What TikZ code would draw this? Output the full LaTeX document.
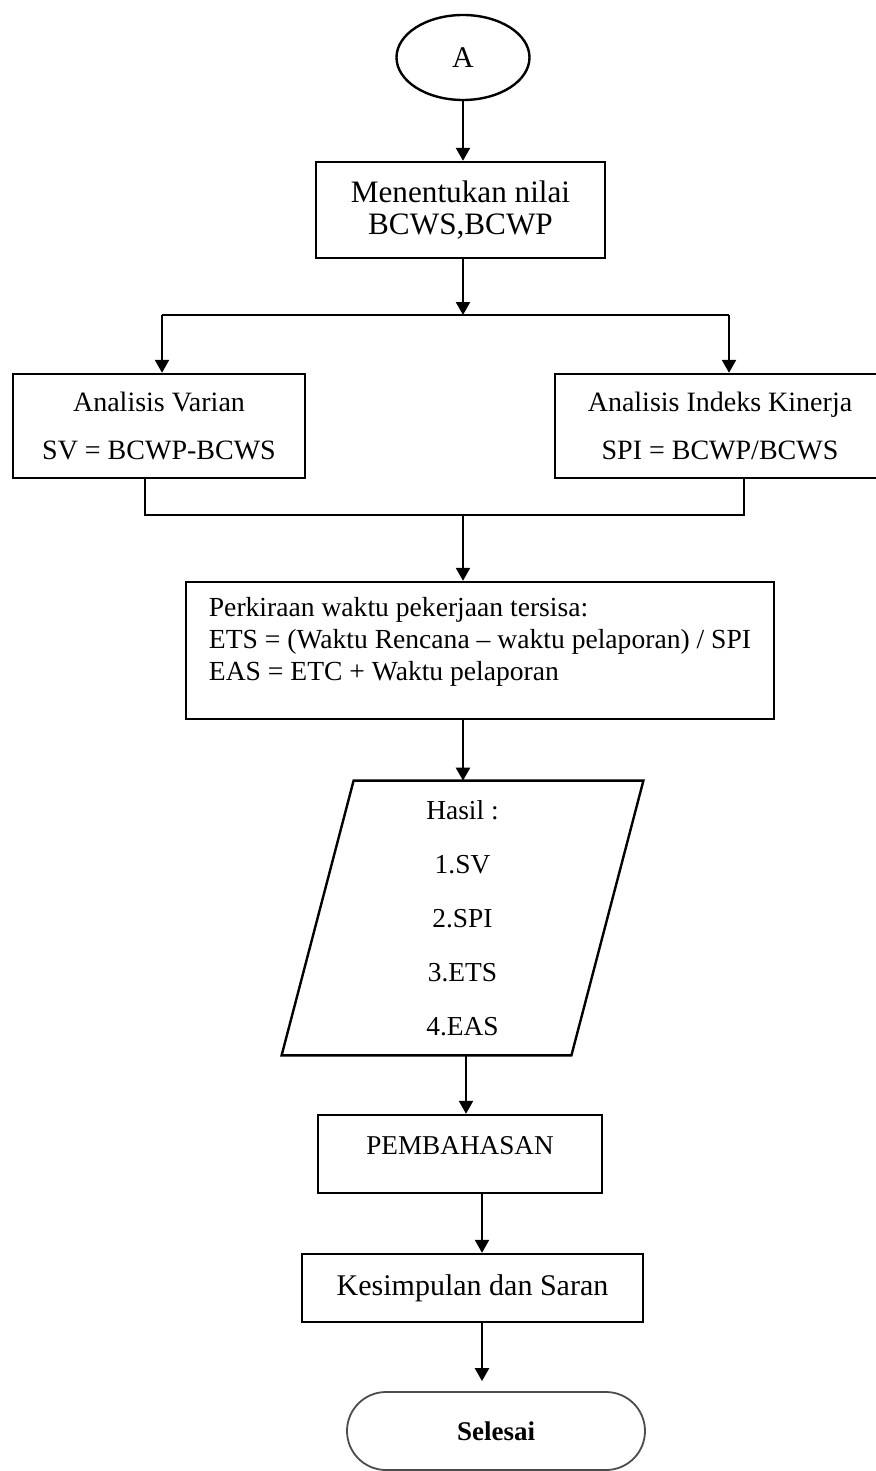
\documentclass[tikz,border=0pt]{standalone}
\usepackage{fontspec}
\setmainfont{Liberation Serif}
\usetikzlibrary{shapes.geometric,arrows.meta}
\begin{document}
\begin{tikzpicture}[x=0.5pt,y=-0.5pt,
        font=\fontsize{15}{17}\selectfont,
        box/.style={draw,line width=1.2pt,rectangle,inner sep=0pt,align=center},
        arr/.style={line width=1.2pt,-{Triangle[length=6.5pt,width=7pt]}},
        link/.style={line width=0.6pt}]
        \useasboundingbox (0,0) rectangle (875,1471);

        % Start: connector A
        \node[draw,line width=1.2pt,ellipse,inner sep=0pt,minimum width=66.5pt,minimum height=42.5pt] (A) at (463,57.5) {A};

        % BCWS and BCWP
        \node[box,minimum width=144.5pt,minimum height=48pt,font=\fontsize{15.6}{17}\selectfont] (nilai) at (460.5,210) {Menentukan nilai\\[-1pt]BCWS,BCWP};

        % Two analyses side by side
        \node[box,minimum width=146pt,minimum height=52pt,font=\fontsize{14}{17}\selectfont] (varian) at (159,426) {Analisis Varian\\[7pt]SV = BCWP-BCWS};
        \node[box,minimum width=165pt,minimum height=52pt,font=\fontsize{14}{17}\selectfont] (indeks) at (720,426) {Analisis Indeks Kinerja\\[7pt]SPI = BCWP/BCWS};

        % Remaining time estimate
        \node[box,align=left,minimum width=294pt,minimum height=68.5pt,font=\fontsize{13.8}{17}\selectfont] (perkiraan) at (480,650.5)
            {Perkiraan waktu pekerjaan tersisa:\\[-1pt]ETS = (Waktu Rencana – waktu pelaporan) / SPI\\[-1pt]EAS = ETC + Waktu pelaporan\rule[-12pt]{0pt}{1pt}};

        % Results (data shape, slanted sides)
        \node[inner sep=0pt,minimum width=144.5pt,minimum height=137pt,align=center,
            font=\fontsize{13.7}{17}\selectfont] (hasil) at (462.5,918)
            {Hasil :\\[10pt]1.SV\\[10pt]2.SPI\\[10pt]3.ETS\\[10pt]4.EAS};
        \draw[line width=1.2pt,line join=miter] ([xshift=18pt]hasil.north west) -- ([xshift=18pt]hasil.north east)
            -- ([xshift=-18pt]hasil.south east) -- ([xshift=-18pt]hasil.south west) -- cycle;

        % Discussion and conclusion
        \node[box,minimum width=142pt,minimum height=39pt,font=\fontsize{13.6}{17}\selectfont] (bahas) at (460,1154) {PEMBAHASAN\rule[-9pt]{0pt}{1pt}};
        \node[box,minimum width=170.5pt,minimum height=34pt] (simpulan) at (472.5,1288) {Kesimpulan dan Saran};

        % End
        \node[draw=black!70,line width=0.9pt,rounded corners=19.5pt,minimum width=149pt,minimum height=39pt,
            font=\fontsize{13.5}{15}\selectfont\bfseries] (selesai) at (496,1431) {Selesai};

        % Split to the two analyses
        \coordinate (split) at (463,315);
        \coordinate (kiri) at (162,315);
        \coordinate (kanan) at (729,315);
        \draw[arr] (A) -- (A |- nilai.north);
        \draw[arr] (nilai.south -| split) -- (split);
        \draw[line width=1.2pt] (kiri) -- (kanan);
        \draw[arr] (kiri) -- (kiri |- varian.north);
        \draw[arr] (kanan) -- (kanan |- indeks.north);

        % Join back
        \coordinate (gabung) at (463,515);
        \coordinate (jl) at (145,515);
        \coordinate (jr) at (744,515);
        \draw[link] (jl |- varian.south) -- (jl) -- (jr) -- (jr |- indeks.south);
        \draw[arr] (gabung) -- (gabung |- perkiraan.north);
        \draw[arr] (perkiraan.south -| gabung) -- (gabung |- hasil.north);

        % Down to the end
        \coordinate (jalur1) at (466,1080);
        \coordinate (jalur2) at (482,1230);
        \draw[arr] (hasil.south -| jalur1) -- (jalur1 |- bahas.north);
        \draw[arr] (bahas.south -| jalur2) -- (jalur2 |- simpulan.north);
        \draw[arr,shorten >=5pt] (simpulan.south -| jalur2) -- (jalur2 |- selesai.north);
    \end{tikzpicture}
\end{document}
